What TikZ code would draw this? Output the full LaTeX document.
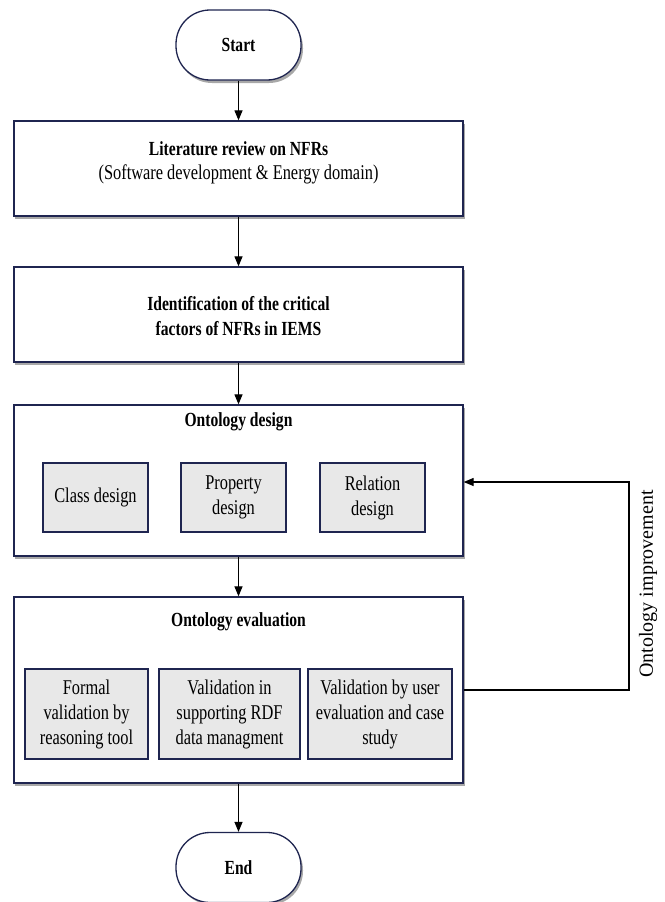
\documentclass[tikz,border=0pt]{standalone}
\usepackage{fontspec}
\setmainfont{Liberation Serif}[FakeStretch=0.78]
\newfontfamily\uprightlabel{Liberation Serif}
\usetikzlibrary{arrows.meta}
\definecolor{navy}{HTML}{1F2550}
\definecolor{innerfill}{HTML}{E8E8E8}
\definecolor{shadowgray}{HTML}{A8A8A8}
\tikzset{
  bigbox/.style={draw=navy, line width=1.3pt, fill=white, minimum width=449pt, inner sep=0pt},
  innerbox/.style={draw=navy, line width=1.1pt, fill=innerfill, inner sep=0pt, align=center, font=\fontsize{21}{25}\selectfont},
  term/.style={draw=navy, line width=1.3pt, fill=white, rounded corners=34pt, minimum width=125pt, minimum height=70pt, inner sep=0pt, font=\fontsize{20}{24}\selectfont\bfseries},
  flow/.style={-{Triangle[length=10pt,width=8pt]}, line width=1.2pt, black},
  title/.style={font=\fontsize{20}{25}\selectfont\bfseries, align=center, inner sep=0pt},
  plain/.style={font=\fontsize{21}{25}\selectfont, align=center, inner sep=0pt}
}
\begin{document}
\begin{tikzpicture}[x=1pt,y=-1pt]
\useasboundingbox (0,0) rectangle (664,902);
% shadows
\fill[shadowgray, rounded corners=34pt] (178,14) rectangle (303,83);
\fill[shadowgray] (15,124) rectangle (465,219);
\fill[shadowgray] (15,270) rectangle (465,365);
\fill[shadowgray] (15,408) rectangle (465,559);
\fill[shadowgray] (15,600) rectangle (465,786);
\fill[shadowgray, rounded corners=34pt] (178,836) rectangle (303,905);
% terminals
\node[term] (start) at (238.5,45) {Start};
\node[term] (end) at (238.5,867.5) {End};
% main boxes
\node[bigbox, minimum height=95pt] (b1) at (238.5,168.5) {};
\node[bigbox, minimum height=95pt] (b2) at (238.5,314.5) {};
\node[bigbox, minimum height=151pt] (b3) at (238.5,480.5) {};
\node[bigbox, minimum height=186pt] (b4) at (238.5,690) {};
% texts in main boxes
\node[title] (t1) at (238.5,149) {Literature review on NFRs};
\node[plain] (t1b) at (238.5,174) {(Software development \& Energy domain)};
\node[title] (t2) at (238.5,316) {Identification of the critical\\factors of NFRs in IEMS};
\node[title] (t3) at (238.5,422) {Ontology design};
\node[title] (t4) at (238.5,622) {Ontology evaluation};
% inner boxes of design
\node[innerbox, minimum width=105pt, minimum height=69pt] (c1) at (95.5,497.5) {Class design};
\node[innerbox, minimum width=105pt, minimum height=69pt] (c2) at (233.5,497.5) {Property\\design};
\node[innerbox, minimum width=105pt, minimum height=69pt] (c3) at (372.5,497.5) {Relation\\design};
% inner boxes of evaluation
\node[innerbox, minimum width=123pt, minimum height=90pt] (e1) at (86.5,714) {Formal\\validation by\\reasoning tool};
\node[innerbox, minimum width=141pt, minimum height=90pt] (e2) at (229.5,714) {Validation in\\supporting RDF\\data managment};
\node[innerbox, minimum width=144pt, minimum height=90pt] (e3) at (380,714) {Validation by user\\evaluation and case\\study};
% connectors
\draw[flow] (start) -- (b1);
\draw[flow] (b1) -- (b2);
\draw[flow] (b2) -- (b3);
\draw[flow] (b3) -- (b4);
\draw[flow] (b4) -- (end);
\coordinate (lb) at (629,690);
\coordinate (lt) at (629,482);
\draw[flow] (b4.east |- lb) -- (lb) -- (lt) -- (b3.east |- lt);
\node[inner sep=0pt, rotate=90, font=\uprightlabel\fontsize{20}{22}\selectfont] (lbl) at (648,584) {Ontology improvement};
\end{tikzpicture}
\end{document}
